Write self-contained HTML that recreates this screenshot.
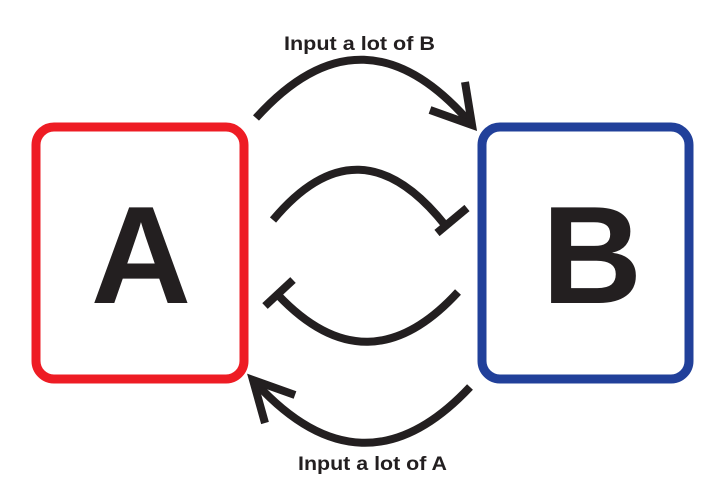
<!DOCTYPE html>
<html><head><meta charset="utf-8"><style>
html,body{margin:0;padding:0;background:#fff;}
svg{display:block;}
</style></head><body>
<svg width="722" height="496" viewBox="0 0 722 496" xmlns="http://www.w3.org/2000/svg">
<rect x="36" y="127" width="208" height="252" rx="18" fill="none" stroke="#ee1c24" stroke-width="9"/>
<rect x="482" y="127" width="207" height="252" rx="18" fill="none" stroke="#21409a" stroke-width="9"/>
<text x="141" y="303" text-anchor="middle" font-family="Liberation Sans, sans-serif" font-weight="bold" font-size="139" fill="#231f20">A</text>
<text x="592" y="303" text-anchor="middle" font-family="Liberation Sans, sans-serif" font-weight="bold" font-size="139" fill="#231f20">B</text>
<g fill="none" stroke="#231f20" stroke-width="8">
<path d="M256 118 Q364 -2 472 125"/>
<path d="M430 110 L472 125 L465 82"/>
<path d="M273 220 Q359 117 445 225"/>
<path d="M437 233 L467 208"/>
<path d="M458 292 Q368 390 278 295"/>
<path d="M265 306 L293 280"/>
<path d="M470 387 Q362 502 253 380"/>
<path d="M295 395 L253 380 L265 423"/>
</g>
<text x="284" y="50" textLength="151" lengthAdjust="spacingAndGlyphs" font-family="Liberation Sans, sans-serif" font-weight="bold" font-size="19" fill="#231f20">Input a lot of B</text>
<text x="298" y="470" textLength="149" lengthAdjust="spacingAndGlyphs" font-family="Liberation Sans, sans-serif" font-weight="bold" font-size="19" fill="#231f20">Input a lot of A</text>
</svg>
</body></html>
